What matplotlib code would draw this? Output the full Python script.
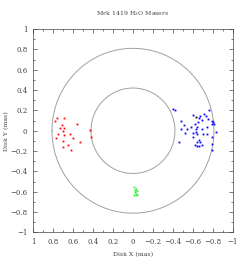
import numpy as np
from matplotlib import pyplot as plt
from matplotlib.ticker import MultipleLocator

# maser positions (mas)
red_x = [0.763, 0.693, 0.783, 0.563, 0.713, 0.733, 0.693, 0.703, 0.433, 0.75,
         0.63, 0.693, 0.42, 0.773, 0.603, 0.697, 0.533, 0.653, 0.697, 0.623]
red_y = [0.130, 0.130, 0.091, 0.066, 0.052, 0.026, 0.026, -0.007, 0.003, -0.032,
         -0.032, -0.046, -0.066, -0.075, -0.075, -0.105, -0.111, -0.144, -0.164, -0.186]

blue_x = [-0.397, -0.423, -0.763, -0.603, -0.67, -0.713, -0.727, -0.48, -0.663, -0.687,
          -0.747, -0.787, -0.803, -0.813, -0.793, -0.653, -0.617, -0.513, -0.483, -0.537,
          -0.643, -0.577, -0.737, -0.69, -0.627, -0.63, -0.517, -0.597, -0.643, -0.697,
          -0.743, -0.83, -0.787, -0.66, -0.67, -0.637, -0.597, -0.46, -0.62, -0.637,
          -0.663, -0.687, -0.787, -0.793]
blue_y = [0.216, 0.206, 0.206, 0.150, 0.144, 0.160, 0.141, 0.098, 0.121, 0.108,
          0.114, 0.098, 0.085, 0.065, 0.065, 0.082, 0.062, 0.059, 0.020, 0.020,
          0.039, 0.036, 0.036, 0.016, 0.016, -0.013, -0.026, -0.023, -0.036, -0.036,
          -0.036, -0.013, -0.065, -0.095, -0.111, -0.114, -0.059, -0.114, -0.144, -0.154,
          -0.154, -0.137, -0.131, -0.186]

green_x = [-0.01, -0.03, -0.017, -0.037, -0.023, -0.03, -0.013, -0.043]
green_y = [-0.555, -0.568, -0.585, -0.594, -0.604, -0.617, -0.634, -0.634]

black_x = [-0.63]
black_y = [0.14]

ring_radii = [0.42, 0.81]


def fmt(v, pos):
    v = round(v, 1)
    if abs(v) < 1e-9:
        return '0'
    return ('%g' % v).replace('-', '\u2212')


plt.rcParams['font.family'] = ['DejaVu Serif']
fig = plt.figure(figsize=(2.4, 2.62), dpi=100)
ax = fig.add_axes([0.1375, 0.1126, 0.833, 0.7767])

t = np.linspace(0, 2 * np.pi, 400)
for r in ring_radii:
    ax.plot(r * np.cos(t), r * np.sin(t), color='#a0a0a0', lw=0.7)

ax.plot(red_x, red_y, 's', color='red', ms=1.3, mew=0)
ax.plot(blue_x, blue_y, 's', color='blue', ms=1.3, mew=0)
ax.plot(green_x, green_y, 's', color='#22ee22', ms=1.3, mew=0)
ax.plot(black_x, black_y, 's', color='black', ms=1.3, mew=0)

ax.set_xlim(1, -1)
ax.set_ylim(-1, 1)
ax.xaxis.set_major_locator(MultipleLocator(0.2))
ax.xaxis.set_minor_locator(MultipleLocator(0.1))
ax.yaxis.set_major_locator(MultipleLocator(0.2))
ax.yaxis.set_minor_locator(MultipleLocator(0.1))
ax.tick_params(which='both', direction='in', top=True, right=True,
               labelsize=5, width=0.5, color='#444444', labelcolor='#444444')
ax.tick_params(which='major', length=3, pad=4)
ax.tick_params(which='minor', length=1.5)
ax.xaxis.set_major_formatter(plt.FuncFormatter(fmt))
ax.yaxis.set_major_formatter(plt.FuncFormatter(fmt))
for s in ax.spines.values():
    s.set_linewidth(0.5)
    s.set_color('#444444')

ax.set_xlabel('Disk X (mas)', fontsize=4.5, color='#444444', labelpad=4)
ax.set_ylabel('Disk Y (mas)', fontsize=4.5, color='#444444', labelpad=1)
ax.set_title('Mrk 1419 H$_2$O Masers', fontsize=4.5, color='#444444', pad=10)

fig.savefig('out.png', dpi=100)
